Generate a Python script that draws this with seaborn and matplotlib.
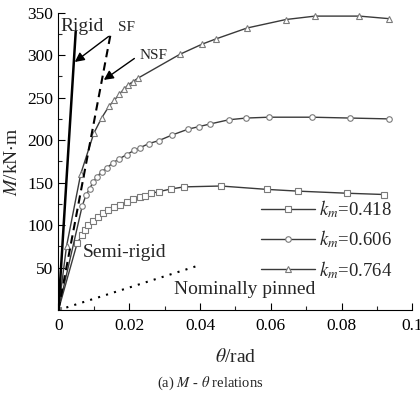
import numpy as np
import pandas as pd
import matplotlib
matplotlib.use("Agg")
import matplotlib.pyplot as plt
import seaborn as sns

# ---- data ----
theta_418 = [0, 0.0053, 0.0066, 0.0075, 0.0084, 0.0098, 0.0111, 0.0125, 0.0141, 0.0158,
             0.0174, 0.0193, 0.0211, 0.0230, 0.0244, 0.0263, 0.0285, 0.0318, 0.0355,
             0.0459, 0.0590, 0.0676, 0.0816, 0.0920]
m_418 = [0, 78.6, 88, 94, 100, 105, 110, 114, 118, 121,
         124, 127.6, 130.4, 132.7, 134.3, 137.5, 139.5, 142.5, 145,
         146, 142, 140, 137.5, 136]

theta_606 = [0, 0.0067, 0.0078, 0.0089, 0.0098, 0.0110, 0.0122, 0.0136, 0.0153, 0.0172,
             0.0193, 0.0214, 0.0230, 0.0256, 0.0284, 0.0321, 0.0367, 0.0398, 0.0428,
             0.0482, 0.0530, 0.0595, 0.0717, 0.0825, 0.0934]
m_606 = [0, 122, 135.5, 143, 151, 157, 163, 167, 173, 178,
         183, 188, 191, 196, 199.5, 206, 213, 216, 219,
         224, 226, 227, 227, 226, 225]

theta_764 = [0, 0.0023, 0.0063, 0.0100, 0.0122, 0.0143, 0.0158, 0.0172, 0.0185, 0.0197,
             0.0211, 0.0225, 0.0343, 0.0406, 0.0444, 0.0533, 0.0643, 0.0725, 0.0850, 0.0934]
m_764 = [0, 75, 160, 208, 226, 240, 247, 254, 260, 265,
         269, 273, 301, 313, 319, 332, 342, 346, 346, 343]

series_labels = ["0.418", "0.606", "0.764"]

rigid_theta = [0, 0.0049]
rigid_m = [0, 328]
sf_theta = [0, 0.0148]
sf_m = [0, 326]
pinned_theta = [0, 0.040]
pinned_m = [0, 53]

xticks = [0, 0.02, 0.04, 0.06, 0.08, 0.1]
xtick_labels = ["0", "0.02", "0.04", "0.06", "0.08", "0.1"]
yticks = [50, 100, 150, 200, 250, 300, 350]

# ---- style ----
sns.set_style("ticks")
plt.rcParams["font.family"] = ["Liberation Serif", "DejaVu Serif"]
plt.rcParams["mathtext.fontset"] = "stix"

fig = plt.figure(figsize=(4.2, 3.97), dpi=100)
ax = fig.add_axes([0.139, 0.219, 0.843, 0.749])

line_col = "#3a3a3a"
mk_col = "#7a7a7a"
markers = ["s", "o", "^"]
frames = []
for lab, th, mm in zip(series_labels, [theta_418, theta_606, theta_764], [m_418, m_606, m_764]):
    frames.append(pd.DataFrame({"theta": th, "M": mm, "k": lab}))

for df, mk in zip(frames, markers):
    sns.lineplot(data=df, x="theta", y="M", ax=ax, color=line_col, lw=1.0,
                 marker=mk, markersize=4.0, markerfacecolor="white",
                 markeredgecolor=mk_col, markeredgewidth=0.8,
                 sort=False, estimator=None,
                 label=r"$k_m$=" + df["k"].iloc[0])

sns.lineplot(x=rigid_theta, y=rigid_m, ax=ax, color="black", lw=1.8, estimator=None, legend=False)
sns.lineplot(x=sf_theta, y=sf_m, ax=ax, color="black", lw=1.5, linestyle=(0, (4, 2.5)), estimator=None, legend=False)
sns.lineplot(x=pinned_theta, y=pinned_m, ax=ax, color="black", lw=1.5, linestyle=(0, (1, 3)), estimator=None, legend=False)

# annotations
ax.text(0.0005, 334, "Rigid", fontsize=14, va="center", ha="left")
ax.annotate("", xy=(0.0040, 290), xytext=(0.0148, 324),
            arrowprops=dict(arrowstyle="-|>", color="black", lw=1.0, mutation_scale=14))
ax.text(0.0168, 332, "SF", fontsize=11, va="center", ha="left")
ax.annotate("", xy=(0.0122, 269), xytext=(0.0221, 298),
            arrowprops=dict(arrowstyle="-|>", color="black", lw=1.0, mutation_scale=14))
ax.text(0.0228, 300, "NSF", fontsize=11, va="center", ha="left")
ax.text(0.0069, 68, "Semi-rigid", fontsize=14, va="center", ha="left")
ax.text(0.0326, 24, "Nominally pinned", fontsize=14, va="center", ha="left")

ax.set_xlim(0, 0.1)
ax.set_ylim(0, 350)
ax.set_xticks(xticks)
ax.set_xticklabels(xtick_labels)
ax.set_yticks(yticks)
ax.set_xticks(np.arange(0.01, 0.1, 0.02), minor=True)
ax.set_yticks(np.arange(25, 350, 50), minor=True)
ax.tick_params(axis="both", which="major", direction="in", length=5, width=0.8, labelsize=12.5, colors="black")
ax.tick_params(axis="both", which="minor", direction="in", length=3, width=0.8)
ax.tick_params(axis="x", pad=6)
sns.despine(ax=ax)
for s in ["left", "bottom"]:
    ax.spines[s].set_linewidth(0.8)
    ax.spines[s].set_color("black")

ax.set_xlabel(r"$\theta$/rad", fontsize=14, labelpad=10)
ax.set_ylabel(r"$M$/kN$\cdot$m", fontsize=14, labelpad=5)

leg = ax.legend(loc="upper left", bbox_to_anchor=(0.55, 0.40), frameon=False, fontsize=13.5,
                handlelength=2.9, handletextpad=0.2, labelspacing=0.45, borderaxespad=0)

fig.text(0.5, 0.035, r"(a) $M$ - $\theta$ relations", fontsize=10.5, ha="center", va="center")

fig.savefig("out.png", dpi=100)
